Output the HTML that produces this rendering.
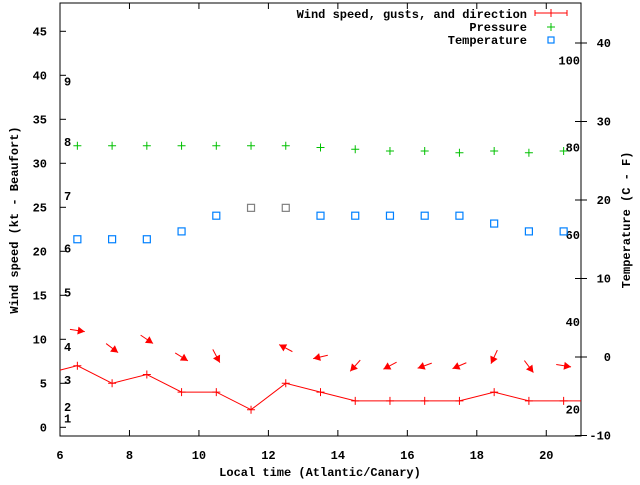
<!DOCTYPE html>
<html><head><meta charset="utf-8"><style>
html,body{margin:0;padding:0;background:#fff;}
svg text{font-family:"Liberation Mono","DejaVu Sans Mono",monospace;font-weight:bold;font-size:12px;fill:#000;}
</style></head><body>
<svg id="chart" width="640" height="480" xmlns="http://www.w3.org/2000/svg">
<g id="g"></g>
<g>
<text x="527" y="18" text-anchor="end">Wind speed, gusts, and direction</text>
<path d="M535,13H567M535,10V16M551,9V17M567,10V16" stroke="#f00"/>
<text x="527" y="31" text-anchor="end">Pressure</text>
<path d="M547,27H555M551,23V31" stroke="#00c000"/>
<text x="527" y="44" text-anchor="end">Temperature</text>
<rect x="548" y="37" width="6" height="6" fill="none" stroke="#0080ff" stroke-width="1.2"/>
</g>
<text x="320" y="476" text-anchor="middle">Local time (Atlantic/Canary)</text>
<text transform="translate(18,220) rotate(-90)" text-anchor="middle">Wind speed (kt - Beaufort)</text>
<text transform="translate(630,220) rotate(-90)" text-anchor="middle">Temperature (C - F)</text>
</svg>
<script>
const times=[6.5,7.5,8.5,9.5,10.5,11.5,12.5,13.5,14.5,15.5,16.5,17.5,18.5,19.5,20.5];
const windSpeed=[7,5,6,4,4,2,5,4,3,3,3,3,4,3,3];
const pressure=[32,32,32,32,32,32,32,31.8,31.6,31.4,31.4,31.2,31.4,31.2,31.4];
const temperature=[15,15,15,16,18,19,19,18,18,18,18,18,17,16,16];
const arrowY=[11,9,10,8,8.1,null,9,8,7,7,7,7,8,6.9,7];
const arrowBearing=[99,127,124,122,152,null,298,257,222,242,250,247,205,143,99];
const xTicks=[6,8,10,12,14,16,18,20];
const yTicks=[0,5,10,15,20,25,30,35,40,45];
const y2Ticks=[-10,0,10,20,30,40];
const beaufort=[1,2,3,4,5,6,7,8,9];
const beaufortPos=[1,2.3,5.4,9.1,15.3,20.3,26.3,32.4,39.3];
const fahrenheit=[20,40,60,80,100];

const L=60,R=581,T=3,B=436;
const X=v=>L+(v-6)/(21-6)*(R-L);
const Y=v=>427.3-v*8.8;
const Y2=v=>357-v*7.85;
const NS="http://www.w3.org/2000/svg";
const g=document.getElementById('g');
function mk(tag,attrs){const e=document.createElementNS(NS,tag);for(const k in attrs)e.setAttribute(k,attrs[k]);g.appendChild(e);return e;}

let e=mk('rect',{x:L,y:T,width:R-L,height:B-T,fill:'none',stroke:'#000','stroke-width':1});



xTicks.forEach(v=>{
 let t=mk('line',{x1:X(v),x2:X(v),y1:B,y2:B-6,stroke:'#000'});
 
 
 let t2=mk('line',{x1:X(v),x2:X(v),y1:T,y2:T+6,stroke:'#000'});
 
 
 let l=mk('text',{x:X(v),y:B+23,'text-anchor':'middle'});l.textContent=v;
 
 
});
yTicks.forEach(v=>{
 let t=mk('line',{x1:L,x2:L+6,y1:Y(v),y2:Y(v),stroke:'#000'});
 
 
 let l=mk('text',{x:47,y:Y(v)+4,'text-anchor':'end'});l.textContent=v;
 
 
});
y2Ticks.forEach(v=>{
 let t=mk('line',{x1:R-6,x2:R+6,y1:Y2(v),y2:Y2(v),stroke:'#000'});
 
 
 let l=mk('text',{x:611,y:Y2(v)+4,'text-anchor':'end'});l.textContent=v;
 
 
});
beaufort.forEach((b,i)=>{
 let l=mk('text',{x:64,y:Y(beaufortPos[i])+4});l.textContent=b;
 
 
});
fahrenheit.forEach(f=>{
 let l=mk('text',{x:580,y:Y2((f-32)*5/9)+4,'text-anchor':'end'});l.textContent=f;
 
 
});

let pts=[[L,Y(windSpeed[0]-0.5)]].concat(times.map((t,i)=>[X(t),Y(windSpeed[i])])).concat([[R,Y(windSpeed[windSpeed.length-1])]]);
e=mk('polyline',{points:pts.map(p=>p.join(',')).join(' '),fill:'none',stroke:'#f00','stroke-width':1});


times.forEach((t,i)=>{
 const x=X(t),y=Y(windSpeed[i]);
 let p=mk('path',{d:`M${x-4},${y}H${x+4}M${x},${y-4}V${y+4}`,stroke:'#f00'});
 
 
});
times.forEach((t,i)=>{
 if(arrowY[i]==null)return;
 const a=arrowBearing[i]*Math.PI/180, dx=Math.sin(a), dy=-Math.cos(a);
 const cx=X(t), cy=Y(arrowY[i]), h=7.5;
 const x1=cx-dx*h,y1=cy-dy*h,x2=cx+dx*h,y2=cy+dy*h;
 const px=-dy,py=dx;
 let ln=mk('line',{x1,y1,x2,y2,stroke:'#f00'});
 
 
 const bx=x2-dx*7,by=y2-dy*7;
 let hd=mk('polygon',{points:`${x2},${y2} ${bx+px*4},${by+py*4} ${bx-px*4},${by-py*4}`,fill:'#f00'});
 
 
});
times.forEach((t,i)=>{
 const x=X(t),y=Y(pressure[i]);
 let p=mk('path',{d:`M${x-4},${y}H${x+4}M${x},${y-4}V${y+4}`,stroke:'#00c000'});
 
 
});
times.forEach((t,i)=>{
 const x=X(t),y=Y2(temperature[i]);
 const gray=(t===11.5||t===12.5);
 let r=mk('rect',{x:x-3.5,y:y-3.5,width:7,height:7,fill:'none',stroke:gray?'#808080':'#0080ff','stroke-width':1.2});
 
 
});
</script>
</body></html>
